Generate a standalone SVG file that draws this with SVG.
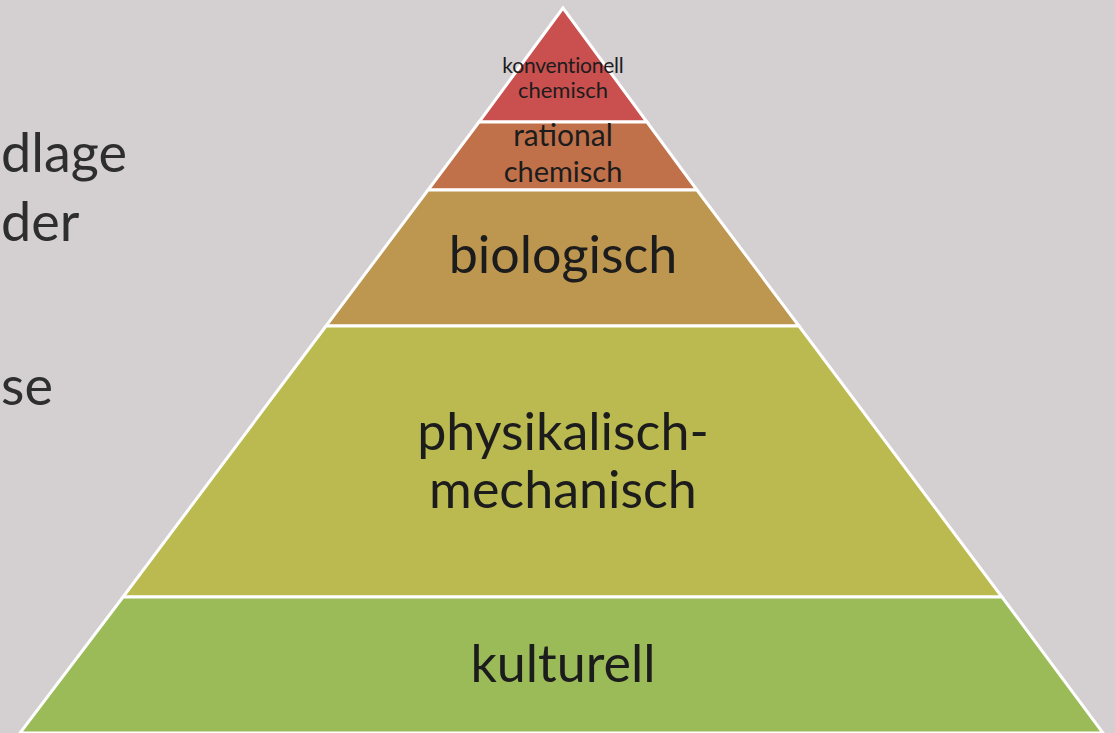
<svg xmlns="http://www.w3.org/2000/svg" width="1115" height="733" viewBox="0 0 1115 733">
  <style>
    .lbl { font-family: Lato, "Liberation Sans", sans-serif; fill: #1c1c1c; text-anchor: middle; }
    .side { font-family: Lato, "Liberation Sans", sans-serif; fill: #2e2e2e; font-size: 54px; }
    .band { stroke: #ffffff; stroke-width: 3; stroke-linejoin: miter; }
  </style>
  <rect x="0" y="0" width="1115" height="733" fill="#d4d0d1"/>

  <!-- body text at the left margin -->
  <g id="side-text">
    <text class="side" x="1" y="172">dlage</text>
    <text class="side" x="1" y="241">der</text>
    <text class="side" x="1" y="405">se</text>
  </g>

  <!-- pyramid levels, top to bottom -->
  <g id="level-konventionell">
    <polygon class="band" points="563,8 479,122 647,122" fill="#c9504f"/>
    <text class="lbl" x="563" y="73" font-size="21" letter-spacing="-0.2">konventionell</text>
    <text class="lbl" x="563" y="98" font-size="22">chemisch</text>
  </g>
  <g id="level-rational">
    <polygon class="band" points="479,122 647,122 697,190 428,190" fill="#c0714a"/>
    <text class="lbl" x="563" y="146" font-size="30">rational</text>
    <text class="lbl" x="563" y="182" font-size="29">chemisch</text>
  </g>
  <g id="level-biologisch">
    <polygon class="band" points="428,190 697,190 799,326 326,326" fill="#bd9650"/>
    <text class="lbl" x="563" y="273" font-size="52">biologisch</text>
  </g>
  <g id="level-physikalisch">
    <polygon class="band" points="326,326 799,326 1002,597 123,597" fill="#bbba51"/>
    <text class="lbl" x="563" y="450" font-size="52">physikalisch-</text>
    <text class="lbl" x="563" y="508" font-size="52">mechanisch</text>
  </g>
  <g id="level-kulturell">
    <polygon class="band" points="123,597 1002,597 1103,733 20,733" fill="#9bbb59"/>
    <text class="lbl" x="563" y="682" font-size="52">kulturell</text>
  </g>
</svg>
